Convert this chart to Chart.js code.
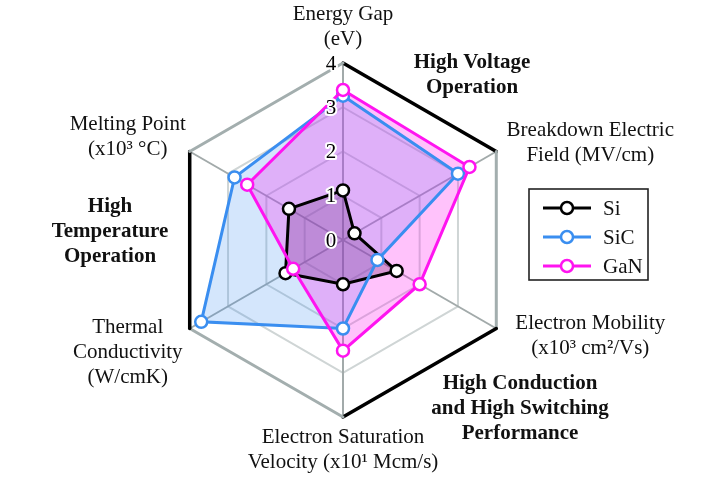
<!DOCTYPE html>
<html>
<head>
<meta charset="utf-8">
<script src="https://cdn.jsdelivr.net/npm/chart.js@4.4.1/dist/chart.umd.min.js"></script>
<style>
  html, body { margin: 0; padding: 0; background: #ffffff; }
  #wrap { width: 725px; height: 480px; position: relative; }
</style>
</head>
<body>
<div id="wrap"><canvas id="c" width="725" height="480"></canvas></div>
<script>
// ---------- data ----------
const categories = [
  ['Energy Gap', '(eV)'],
  ['Breakdown Electric', 'Field (MV/cm)'],
  ['Electron Mobility', '(x10\u00B3 cm\u00B2/Vs)'],
  ['Electron Saturation', 'Velocity (x10\u00B9 Mcm/s)'],
  ['Thermal', 'Conductivity', '(W/cmK)'],
  ['Melting Point', '(x10\u00B3 \u00B0C)']
];
const seriesNames = ['Si', 'SiC', 'GaN'];
const siValues  = [1.12, 0.3, 1.4, 1.0, 1.5, 1.41];
const sicValues = [3.26, 3.0, 0.9, 2.0, 3.7, 2.83];
const ganValues = [3.39, 3.3, 2.0, 2.5, 1.3, 2.5];
const tickLabels = ['0', '1', '2', '3', '4'];
const groupLabels = [
  ['High Voltage', 'Operation'],
  ['High Conduction', 'and High Switching', 'Performance'],
  ['High', 'Temperature', 'Operation']
];

// ---------- styles ----------
const FONT = '"Liberation Serif", "Times New Roman", serif';
const colors = ['#000000', '#3a8ef0', '#ff14f0'];
const fills = ['rgba(70,50,70,0.3)', 'rgba(58,142,240,0.22)', 'rgba(255,20,240,0.26)'];
const outerEdgeColors = ['#000000', '#a3aeae', '#000000', '#a3aeae', '#000000', '#a3aeae'];
const outerEdgeWidths = [3.5, 3, 3.5, 3, 3.5, 3];
// label block placement relative to the scale vertex: [dx, dy of first line centre]
const labelOffsets = [[0, -49], [94, -21], [94, -5], [0, 20], [-62, -1], [-62, -27]];
// group labels: [dx, dy] relative to the chart centre
const groupPlacement = [[129, -177], [177, 144], [-233, -33]];
const LINE_H = 25;
const FSIZE = 21;

const outerRingPlugin = {
  id: 'outerRing',
  beforeDatasetsDraw(chart) {
    const s = chart.scales.r;
    const ctx = chart.ctx;
    const n = chart.data.labels.length;
    const R = s.getDistanceFromCenterForValue(s.max);
    ctx.save();
    ctx.lineCap = 'round';
    for (let i = 0; i < n; i++) {
      const a = s.getPointPosition(i, R);
      const b = s.getPointPosition((i + 1) % n, R);
      ctx.beginPath();
      ctx.moveTo(a.x, a.y);
      ctx.lineTo(b.x, b.y);
      ctx.strokeStyle = outerEdgeColors[i];
      ctx.lineWidth = outerEdgeWidths[i];
      ctx.stroke();
    }
    ctx.restore();
  }
};

const textPlugin = {
  id: 'texts',
  afterDatasetsDraw(chart) {
    const s = chart.scales.r;
    const ctx = chart.ctx;
    const R = s.drawingArea;
    ctx.save();
    ctx.textAlign = 'center';
    ctx.textBaseline = 'middle';
    // tick labels along top spoke
    ctx.font = FSIZE + 'px ' + FONT;
    s.ticks.forEach((t, i) => {
      const d = s.getDistanceFromCenterForValue(t.value);
      const p = s.getPointPosition(0, d);
      const txt = tickLabels[i] !== undefined ? tickLabels[i] : String(t.value);
      ctx.lineWidth = 4;
      ctx.strokeStyle = '#ffffff';
      ctx.lineJoin = 'round';
      ctx.strokeText(txt, p.x - 12, p.y + 1);
      ctx.fillStyle = '#000000';
      ctx.fillText(txt, p.x - 12, p.y + 1);
    });
    // category labels
    ctx.fillStyle = '#111111';
    chart.data.labels.forEach((lines, i) => {
      const v = s.getPointPosition(i, R);
      const [dx, dy] = labelOffsets[i];
      lines.forEach((ln, k) => ctx.fillText(ln, v.x + dx, v.y + dy + k * LINE_H));
    });
    // group labels
    ctx.font = 'bold ' + FSIZE + 'px ' + FONT;
    groupLabels.forEach((lines, g) => {
      const [dx, dy] = groupPlacement[g];
      lines.forEach((ln, k) => ctx.fillText(ln, s.xCenter + dx, s.yCenter + dy + k * LINE_H));
    });
    ctx.restore();
  },
  afterDraw(chart) {
    // legend
    const ctx = chart.ctx;
    const box = { x: 529, y: 189, w: 119, h: 91 };
    ctx.save();
    ctx.fillStyle = '#ffffff';
    ctx.fillRect(box.x, box.y, box.w, box.h);
    ctx.strokeStyle = '#222222';
    ctx.lineWidth = 1.6;
    ctx.strokeRect(box.x, box.y, box.w, box.h);
    ctx.font = FSIZE + 'px ' + FONT;
    ctx.textBaseline = 'middle';
    ctx.textAlign = 'left';
    chart.data.datasets.forEach((ds, i) => {
      const y = box.y + 19 + i * 29;
      ctx.beginPath();
      ctx.moveTo(box.x + 14, y);
      ctx.lineTo(box.x + 62, y);
      ctx.strokeStyle = ds.borderColor;
      ctx.lineWidth = 3;
      ctx.stroke();
      ctx.beginPath();
      ctx.arc(box.x + 38, y, 6, 0, Math.PI * 2);
      ctx.fillStyle = '#ffffff';
      ctx.fill();
      ctx.lineWidth = 2.5;
      ctx.stroke();
      ctx.fillStyle = '#111111';
      ctx.fillText(ds.label, box.x + 74, y + 1);
    });
    ctx.restore();
  }
};

const valueSets = [siValues, sicValues, ganValues];
const drawOrder = [3, 2, 1];

new Chart(document.getElementById('c'), {
  type: 'radar',
  data: {
    labels: categories,
    datasets: seriesNames.map((name, i) => ({
      label: name,
      data: valueSets[i],
      borderColor: colors[i],
      backgroundColor: fills[i],
      borderWidth: 3,
      fill: true,
      order: drawOrder[i],
      pointRadius: 6,
      pointBorderWidth: 2.5,
      pointBackgroundColor: '#ffffff',
      pointBorderColor: colors[i],
      tension: 0
    }))
  },
  options: {
    responsive: false,
    animation: false,
    devicePixelRatio: 1,
    layout: { padding: { left: 166, right: 205, top: 63, bottom: 63 } },
    plugins: {
      legend: { display: false },
      tooltip: { enabled: false },
      filler: { drawTime: 'beforeDatasetsDraw' }
    },
    scales: {
      r: {
        min: 0,
        max: 4,
        ticks: { display: false, stepSize: 1 },
        pointLabels: { display: false },
        angleLines: { color: '#a2aaaa', lineWidth: 2 },
        grid: {
          color: (ctx) => ctx.index === 4 ? 'rgba(0,0,0,0)' : '#cfd5d5',
          lineWidth: 2
        }
      }
    }
  },
  plugins: [outerRingPlugin, textPlugin]
});
</script>
</body>
</html>
